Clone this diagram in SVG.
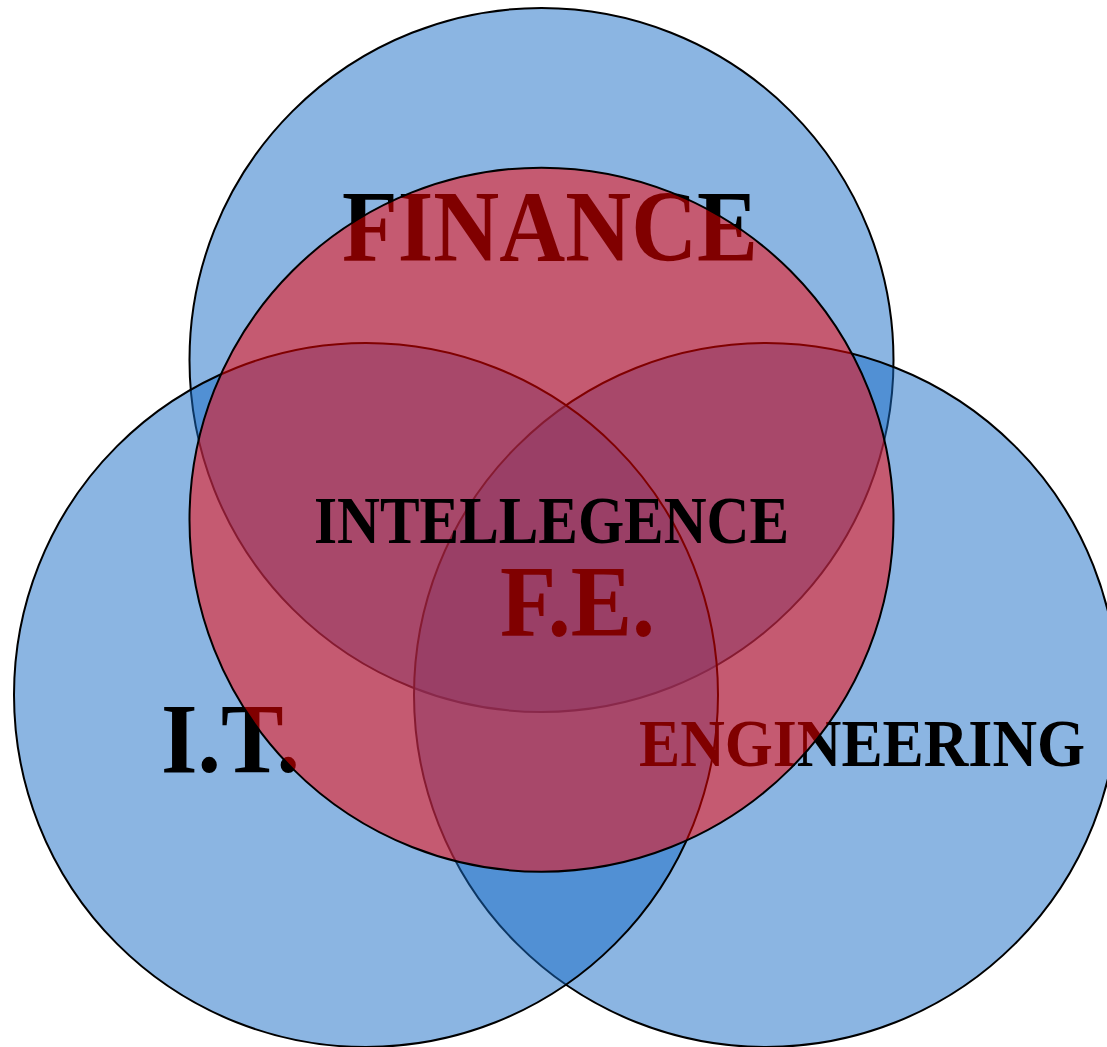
<svg xmlns="http://www.w3.org/2000/svg" width="1107" height="1047" viewBox="0 0 1107 1047">
  <style>
    .blue { fill: #176BC5; fill-opacity: 0.5; stroke: #000; stroke-width: 2; }
    .red { fill: #FF0000; fill-opacity: 0.5; stroke: #000; stroke-width: 2; }
    .lbl { font-family: "Liberation Serif", "Times New Roman", serif; font-weight: bold; fill: #000; }
  </style>
  <rect x="0" y="0" width="1107" height="1047" fill="#FFFFFF"/>
  <g id="finance">
    <circle class="blue" cx="541.5" cy="360" r="352"/>
  </g>
  <g id="engineering">
    <circle class="blue" cx="766" cy="695" r="352"/>
  </g>
  <g id="it">
    <circle class="blue" cx="366" cy="695" r="352"/>
  </g>
  <g id="labels">
    <text class="lbl" x="342" y="261" font-size="102" textLength="416" lengthAdjust="spacingAndGlyphs">FINANCE</text>
    <text class="lbl" x="500" y="636" font-size="102" textLength="155" lengthAdjust="spacingAndGlyphs">F.E.</text>
    <text class="lbl" x="161" y="772" font-size="99" textLength="139" lengthAdjust="spacingAndGlyphs">I.T.</text>
    <text class="lbl" x="639" y="766" font-size="67" textLength="446" lengthAdjust="spacingAndGlyphs">ENGINEERING</text>
  </g>
  <g id="fe">
    <circle class="red" cx="541.5" cy="519.7" r="352"/>
  </g>
  <g id="center-label">
    <text class="lbl" x="314" y="542.5" font-size="68" textLength="475" lengthAdjust="spacingAndGlyphs">INTELLEGENCE</text>
  </g>
  <g id="connectors"></g>
</svg>
